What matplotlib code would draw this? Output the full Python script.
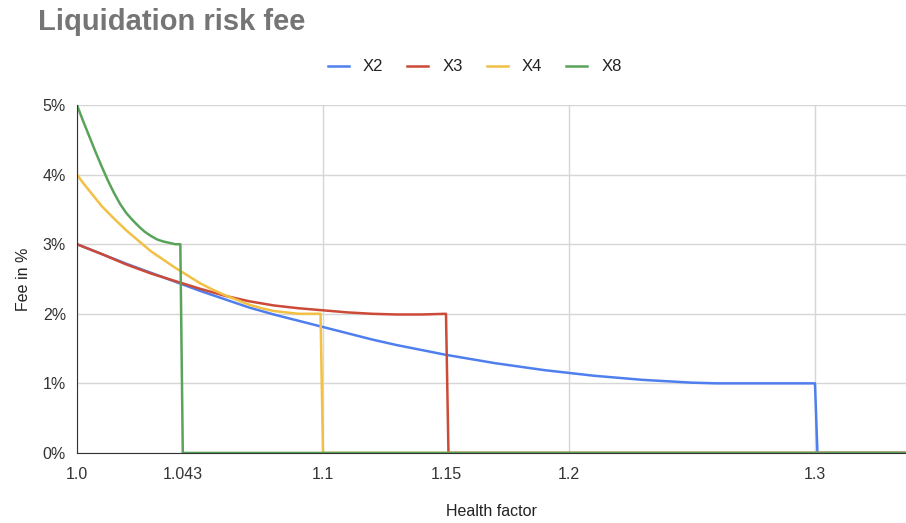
import matplotlib
matplotlib.use("Agg")
import matplotlib.pyplot as plt
from matplotlib.ticker import FuncFormatter

plt.rcParams['font.family'] = ['Liberation Sans', 'DejaVu Sans']

# health factor / fee (%) for each leverage
x2_hf = [1.00, 1.01, 1.02, 1.03, 1.04, 1.05, 1.06, 1.07, 1.08, 1.09, 1.10,
         1.11, 1.12, 1.13, 1.14, 1.15, 1.16, 1.17, 1.18, 1.19, 1.20,
         1.21, 1.22, 1.23, 1.24, 1.25, 1.26, 1.27, 1.28, 1.29, 1.30, 1.301, 1.34]
x2_fee = [3.00, 2.86, 2.72, 2.59, 2.46, 2.33, 2.21, 2.09, 1.99, 1.90, 1.81,
          1.72, 1.63, 1.55, 1.48, 1.41, 1.35, 1.29, 1.24, 1.19, 1.15,
          1.11, 1.08, 1.05, 1.03, 1.01, 1.00, 1.00, 1.00, 1.00, 1.00, 0.0, 0.0]

x3_hf = [1.00, 1.01, 1.02, 1.03, 1.04, 1.05, 1.06, 1.07, 1.08, 1.09, 1.10,
         1.11, 1.12, 1.13, 1.14, 1.15, 1.151, 1.34]
x3_fee = [3.00, 2.86, 2.71, 2.58, 2.47, 2.36, 2.26, 2.18, 2.12, 2.08, 2.05,
          2.02, 2.00, 1.99, 1.99, 2.00, 0.0, 0.0]

x4_hf = [1.00, 1.0025, 1.005, 1.0075, 1.01, 1.015, 1.02, 1.025, 1.03, 1.035,
         1.04, 1.045, 1.05, 1.055, 1.06, 1.065, 1.07, 1.075, 1.08, 1.085,
         1.09, 1.099, 1.10, 1.34]
x4_fee = [4.00, 3.88, 3.77, 3.66, 3.55, 3.37, 3.20, 3.05, 2.90, 2.78,
          2.66, 2.55, 2.44, 2.35, 2.27, 2.20, 2.13, 2.08, 2.04, 2.02,
          2.00, 2.00, 0.0, 0.0]

x8_hf = [1.000, 1.0025, 1.005, 1.0075, 1.010, 1.0125, 1.015, 1.0175, 1.020,
         1.0225, 1.025, 1.0275, 1.030, 1.0325, 1.035, 1.0375, 1.040,
         1.042, 1.043, 1.34]
x8_fee = [5.00, 4.77, 4.55, 4.33, 4.12, 3.92, 3.74, 3.58, 3.45,
          3.35, 3.26, 3.18, 3.12, 3.07, 3.04, 3.02, 3.00,
          3.00, 0.0, 0.0]

series = [("X2", x2_hf, x2_fee, "#4f7fee"),
          ("X3", x3_hf, x3_fee, "#cc4a38"),
          ("X4", x4_hf, x4_fee, "#f1c044"),
          ("X8", x8_hf, x8_fee, "#5aa35a")]

fig = plt.figure(figsize=(9.06, 5.23), dpi=100)
ax = fig.add_axes([0.085, 0.134, 0.915, 0.665])

for name, hf, fee, col in series:
    ax.plot(hf, fee, color=col, lw=1.8, label=name, solid_joinstyle="round")

ax.set_xlim(1.0, 1.337)
ax.set_ylim(0, 5)

# gridlines only on the round values, extra labels at 1.043 and 1.15
ax.set_xticks([1.0, 1.1, 1.2, 1.3])
ax.set_xticklabels(["1.0", "1.1", "1.2", "1.3"])
ax.set_xticks([1.043, 1.15], minor=True)
ax.set_xticklabels(["1.043", "1.15"], minor=True)
ax.set_yticks([0, 1, 2, 3, 4, 5])
ax.yaxis.set_major_formatter(FuncFormatter(lambda v, p: "%d%%" % v))

ax.grid(True, which="major", color="#d6d6d6", lw=1)
ax.set_axisbelow(True)
ax.tick_params(which="both", length=0, labelsize=11.5, labelcolor="#333333")
ax.tick_params(axis="x", which="both", pad=10)
ax.tick_params(axis="y", pad=8)

for s in ["top", "right"]:
    ax.spines[s].set_visible(False)
ax.spines["left"].set_color("#333333")
ax.spines["bottom"].set_color("#333333")

ax.set_xlabel("Health factor", fontsize=11.5, color="#222222", labelpad=16)
ax.set_ylabel("Fee in %", fontsize=11.5, color="#222222", labelpad=8)

fig.text(0.042, 0.958, "Liquidation risk fee", fontsize=21, fontweight="bold",
         color="#757575", va="center", ha="left")

fig.legend(loc="center", bbox_to_anchor=(0.524, 0.872), ncol=4, frameon=False,
           fontsize=12, handlelength=1.25, handletextpad=0.85, columnspacing=1.45,
           labelcolor="#222222")

fig.savefig("out.png", dpi=100)
